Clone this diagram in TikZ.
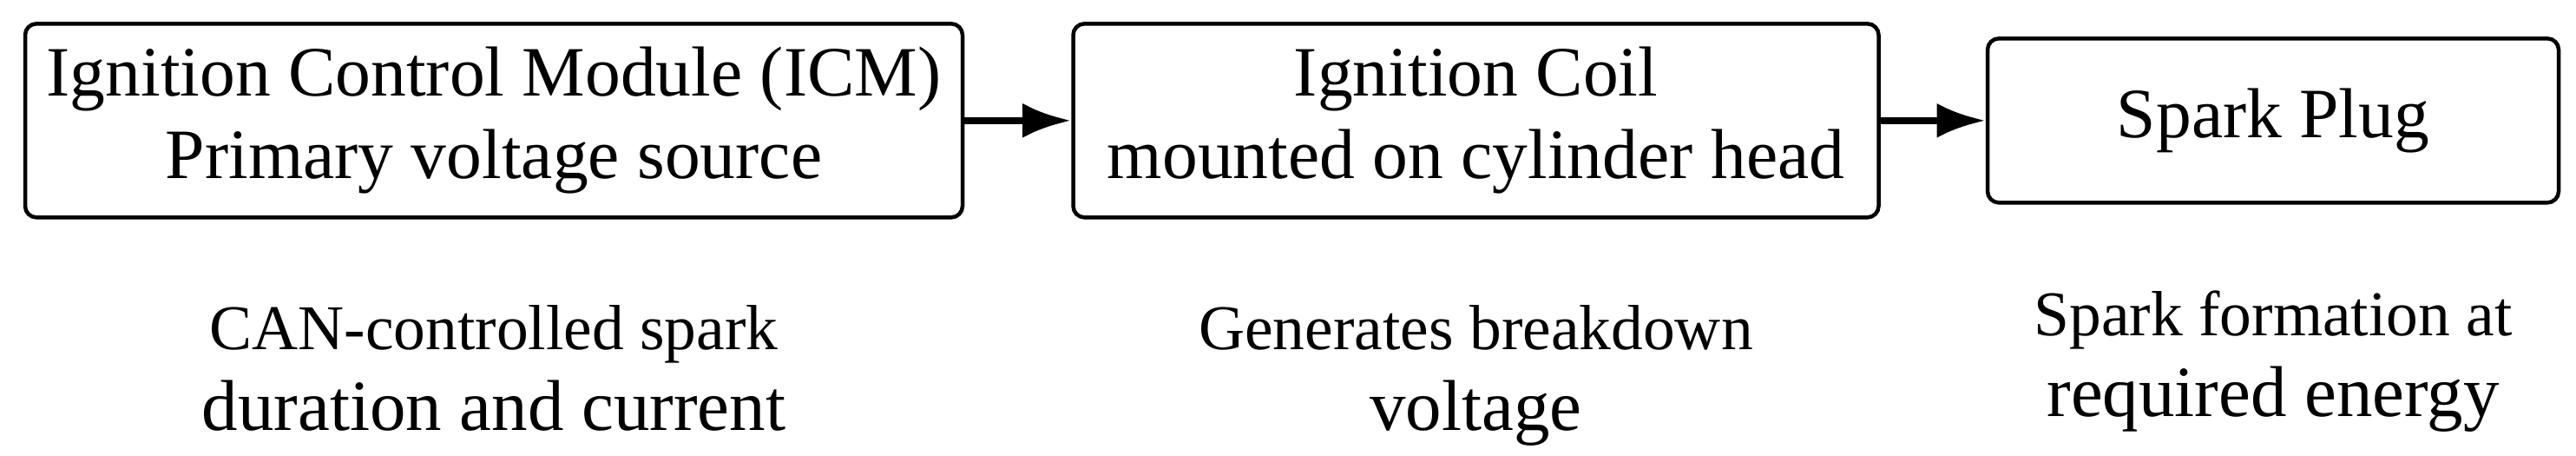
\documentclass[tikz,border=0pt]{standalone}
\usepackage{fontspec}
\setmainfont{Liberation Serif}
\usepackage{xcolor}
\usepackage{tikz}
\usetikzlibrary{positioning,arrows.meta}
\definecolor{ink}{HTML}{000000}
\tikzset{
  stage/.style={draw=ink, line width=0.64pt, rounded corners=1.85pt, align=center, inner sep=0pt, font=\fontsize{11.6}{13.5}\selectfont},
  link/.style={draw=ink, line width=1.2pt, -{Latex[length=8pt,width=5.7pt]}},
  desc/.style={text=ink, align=center, inner sep=0pt, font=\fontsize{11.8}{13.2}\selectfont},
}
\newcommand{\topln}[1]{{\fontsize{10.45}{13.2}\selectfont #1}}

\begin{document}
\begin{tikzpicture}
  \useasboundingbox (0,0) rectangle (14.84,-2.62);

  \node[stage, minimum width=5.40cm, minimum height=1.115cm] (icm) at (2.845,-0.694)
    {Ignition Control Module (ICM)\\Primary voltage source};
  \node[stage, minimum width=4.64cm, minimum height=1.115cm, right=0.615cm of icm] (coil)
    {Ignition Coil\\mounted on cylinder head};
  \node[stage, minimum width=3.29cm, minimum height=0.945cm, right=0.605cm of coil] (plug)
    {Spark Plug};

  \draw[link] (icm) -- (coil);
  \draw[link] (coil) -- (plug);

  % notes under each stage
  \node[desc, below=0.49cm of icm] (icmnote) {\topln{CAN-controlled spark}\\duration and current};
  \node[desc, below=0.49cm of coil] (coilnote) {\topln{Generates breakdown}\\voltage};
  \node[desc, below=0.49cm of plug] (plugnote) {\topln{Spark formation at}\\required energy};
\end{tikzpicture}
\end{document}
